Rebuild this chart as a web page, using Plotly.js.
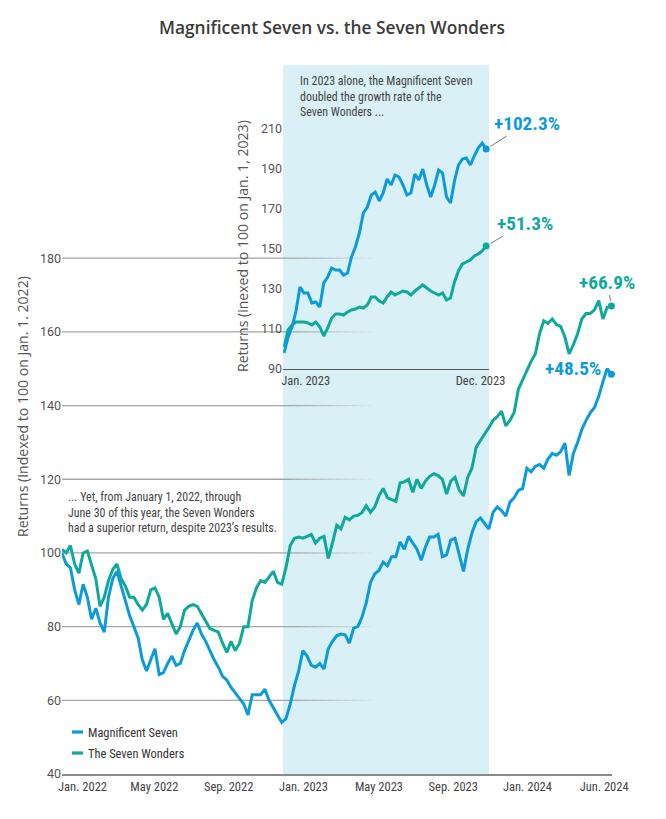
<!DOCTYPE html>
<html><head><meta charset="utf-8">
<script src="https://cdn.plot.ly/plotly-3.0.1.min.js"></script>
<style>html,body{margin:0;padding:0;background:#fff}#chart{width:666px;height:819px}</style>
</head><body><div id="chart"></div>
<script>
// ---------- data ----------
const seriesNames = ['Magnificent Seven', 'The Seven Wonders'];
const mainStart = '2022-01-01';   // weekly observations, main chart
const insetStart = '2023-01-03';  // weekly observations, 2023 inset

const magMain = [
  100,97,96,90,86,91.5,88,82,85,81,
  78.5,88,93,95,91,87,83,80,77,71,
  68,71,74,67,67.5,70,72,69.5,70,73.5,
  76.5,79,81,78,76,73.5,71,69,66.5,65.5,
  63.5,62,60.5,59,56,61.5,61.5,61.5,63,60,
  58,56,54,55,59,64,68,73.5,72,69.5,
  69,70,68.5,74,76,77.5,78,77.8,75.5,79.6,
  80,82.6,86.5,92,94.3,95.3,97.5,96.5,99,99,
  103,101,104.5,102.7,101,98,101.6,104.3,104.3,105,
  99,99.5,103.5,104,99.5,95,101,105.4,108.5,109.5,
  108,106.5,111,112.5,111.5,110,113.8,115,117,117.5,
  123,122,123.5,124,123,125.5,127,126.5,127.5,129.8,
  121,127,130,133.5,136,138,139.5,142.5,146.5,150,
  148.5];
const wonMain = [
  101,100,102,97,94.5,100,100.5,97,93,85.5,
  88,92.5,95.5,97,93,91,88,88,86,84.5,
  86,90,90.5,88,82,83.6,81,78,80,84.5,
  85.5,86,85.5,83.6,81.5,79.5,79,78.5,75.5,73,
  76,73.5,75.5,80,80,87,90.5,92.5,92,93.5,
  95,92,91.5,96,102,104,104.3,104,104.5,105,
  102.7,104,104.5,98.5,102.7,107.5,106.5,109.7,109,110,
  110.2,111,112.8,111,112.5,115.5,117.5,115,114.5,114,
  119,119.3,120,116.5,120,117.5,119.5,120.8,121.5,121,
  120,116,119.5,120.5,117,115.5,120.5,123,128.7,130.6,
  132.3,134,136,137,138.5,134.5,136,138.2,144.5,147,
  149.5,152,154,159.5,163,162.3,163.5,162,161.5,158.6,
  154,156.5,159.5,163.5,165,165,166,168.5,163.5,166.7,
  167];
const magInset = [
  98,106,111,119,131,128,128,123,123.5,121,
  133,136,140.5,139.5,139.5,137,138,146,151,158,
  168,171,177,178.5,174,178,185,182,187,186,
  182,177,178,187.5,184.5,190,182,176,182,189.5,
  188,176,173,184,192,195,195.5,192,196.5,200.5,
  203,200];
const wonInset = [
  101,109.5,112,113.5,113.5,113.5,113,112,113.5,111,
  106.5,110.5,115.5,117.5,117.5,117,118.5,119.5,120,121,
  120.5,122,126,126,124,123,126,128.5,127,128,
  129,128.5,127,129,130.5,132,130.5,129,128,127,
  128,124.5,125.5,133.5,139,142.5,143.5,144.5,146.5,147.5,
  149,151.5];

const insetEndLabels = ['+102.3%', '+51.3%'];
const mainEndLabels = ['+48.5%', '+66.9%'];

const mainTickText = ['Jan. 2022','May 2022','Sep. 2022','Jan. 2023','May 2023','Sep. 2023','Jan. 2024','Jun. 2024'];
const mainTickDates = ['2022-02-04','2022-06-03','2022-10-04','2023-02-05','2023-06-10','2023-10-11','2024-02-11','2024-06-17'];
const insetTickText = ['Jan. 2023','Dec. 2023'];
const insetTickDates = ['2023-02-10','2023-12-16'];
const mainYTicks = [40,60,80,100,120,140,160,180];
const insetYTicks = [90,110,130,150,170,190,210];

const titleText = 'Magnificent Seven vs. the Seven Wonders';
const mainYTitle = 'Returns (Indexed to 100 on Jan. 1. 2022)';
const insetYTitle = 'Returns (inexed to 100 on Jan. 1, 2023)';
const noteInsetLines = ['In 2023 alone, the Magnificent Seven', 'doubled the growth rate of the', 'Seven Wonders ...'];
const noteMainLines = ['... Yet, from January 1, 2022, through', 'June 30 of this year, the Seven Wonders', 'had a superior return, despite 2023\u2019s results.'];

// ---------- font helpers (pick an installed face, size text to the reference widths) ----------
const cv = document.createElement('canvas').getContext('2d');
function textW(txt, fam, size, weight) { cv.font = (weight || 400) + ' ' + size + 'px ' + fam; return cv.measureText(txt).width; }
function hasFont(name) {
  const s = 'In 2023 alone, Magnificent 0123456789';
  return textW(s, '"' + name + '", monospace', 40) !== textW(s, 'monospace', 40) ||
         textW(s, '"' + name + '", serif', 40) !== textW(s, 'serif', 40);
}
const condName = ['Roboto Condensed', 'Liberation Sans Narrow', 'Arial Narrow', 'Roboto'].find(hasFont) || 'Roboto';
const COND = '"' + condName + '", Roboto, sans-serif';
const fit = (txt, fam, weight, target, max) => Math.min(max, 20 * target / textW(txt, fam, 20, weight));

const noteSize = Math.min(fit(noteInsetLines[0], COND, 400, 175, 13.5), fit(noteMainLines[2], COND, 400, 209, 13.5));
const legendSize = fit(seriesNames[0], COND, 400, 90, 13.5);
const tickSize = fit(mainTickText[0], COND, 400, 49, 13.5);
const endSize = fit(insetEndLabels[0], COND, 700, 66, 20);
const yTitleSize = fit(mainYTitle, '"Open Sans"', 400, 261, 15);
const titleSize = fit(titleText, '"Open Sans"', 600, 346, 18);

// ---------- helpers ----------
function weekly(start, n) {
  const out = [], t0 = Date.parse(start + 'T00:00:00Z');
  for (let i = 0; i < n; i++) out.push(new Date(t0 + i * 7 * 86400000).toISOString().slice(0, 10));
  return out;
}
const mainDates = weekly(mainStart, magMain.length);
const insetDates = weekly(insetStart, magInset.length);
const last = a => a[a.length - 1];

const BLUE = '#0b9bdb', TEAL = '#0fa99b', SHADE = '#d9f0f6';
const LW = 3;

function lineTrace(x, y, color, xa, ya, name) {
  return {type: 'scatter', mode: 'lines', x: x, y: y, xaxis: xa, yaxis: ya, name: name,
    line: {color: color, width: LW, shape: 'linear'}, hoverinfo: 'skip', showlegend: false};
}
function dotTrace(x, y, color, xa, ya) {
  return {type: 'scatter', mode: 'markers', x: [last(x)], y: [last(y)], xaxis: xa, yaxis: ya,
    marker: {color: color, size: 7}, hoverinfo: 'skip', showlegend: false, cliponaxis: false};
}

const data = [
  lineTrace(mainDates, wonMain, TEAL, 'x', 'y', seriesNames[1]),
  lineTrace(mainDates, magMain, BLUE, 'x', 'y', seriesNames[0]),
  dotTrace(mainDates, wonMain, TEAL, 'x', 'y'),
  dotTrace(mainDates, magMain, BLUE, 'x', 'y'),
  lineTrace(insetDates, wonInset, TEAL, 'x2', 'y2', seriesNames[1]),
  lineTrace(insetDates, magInset, BLUE, 'x2', 'y2', seriesNames[0]),
  dotTrace(insetDates, wonInset, TEAL, 'x2', 'y2'),
  dotTrace(insetDates, magInset, BLUE, 'x2', 'y2')
];

// ---------- layout geometry ----------
const M = {l: 62, r: 54, t: 74, b: 45};
const PW = 666 - M.l - M.r, PH = 819 - M.t - M.b;
const px = v => (v - M.l) / PW;          // pixel x -> paper
const py = v => (819 - M.b - v) / PH;    // pixel y -> paper

const shapes = [];
shapes.push({type: 'rect', xref: 'paper', yref: 'paper', x0: px(283), x1: px(489), y0: 0, y1: py(65),
  fillcolor: SHADE, line: {width: 0}, layer: 'below'});
// fading gridlines
mainYTicks.filter(v => v > 40).forEach(v => {
  shapes.push({type: 'line', xref: 'paper', yref: 'y', x0: 0, x1: px(292), y0: v, y1: v,
    line: {color: 'rgb(165,165,165)', width: 1.3}, layer: 'below'});
  const n = 10;
  for (let i = 0; i < n; i++) {
    const a = 292 + i * 8, b = a + 8;
    shapes.push({type: 'line', xref: 'paper', yref: 'y', x0: px(a), x1: px(b), y0: v, y1: v,
      opacity: 1 - (i + 1) / (n + 1), line: {color: 'rgb(165,165,165)', width: 1.3}, layer: 'below'});
  }
});
// legend swatches
[[seriesNames[0], BLUE, 732], [seriesNames[1], TEAL, 753]].forEach(s => {
  shapes.push({type: 'line', xref: 'paper', yref: 'paper', x0: px(72), x1: px(83), y0: py(s[2]), y1: py(s[2]),
    line: {color: s[1], width: 3.2}});
});

const endFont = c => ({family: COND, size: endSize, color: c, weight: 'bold'});
const noteFont = {family: COND, size: noteSize, color: '#444'};
const annotations = [
  {text: noteInsetLines.join('<br>'), xref: 'paper', yref: 'paper', x: px(298), y: py(72), xanchor: 'left', yanchor: 'top',
    align: 'left', showarrow: false, font: noteFont},
  {text: noteMainLines.join('<br>'), xref: 'paper', yref: 'paper', x: px(66), y: py(488), xanchor: 'left', yanchor: 'top',
    align: 'left', showarrow: false, font: noteFont},
  {text: mainYTitle, xref: 'paper', yref: 'paper', x: px(22), y: py(407), xanchor: 'center', yanchor: 'middle', textangle: -90,
    showarrow: false, font: {family: 'Open Sans', size: yTitleSize, color: '#555'}},
  {text: insetYTitle, xref: 'paper', yref: 'paper', x: px(243), y: py(246), xanchor: 'center', yanchor: 'middle', textangle: -90,
    showarrow: false, font: {family: 'Open Sans', size: yTitleSize, color: '#555'}},
  {text: seriesNames[0], xref: 'paper', yref: 'paper', x: px(86), y: py(732), xanchor: 'left', yanchor: 'middle',
    showarrow: false, font: {family: COND, size: legendSize, color: '#333'}},
  {text: seriesNames[1], xref: 'paper', yref: 'paper', x: px(86), y: py(753), xanchor: 'left', yanchor: 'middle',
    showarrow: false, font: {family: COND, size: legendSize, color: '#333'}},
  // end labels
  {text: insetEndLabels[0], xref: 'x2', yref: 'y2', x: last(insetDates), y: last(magInset), ax: 41, ay: -26,
    showarrow: true, arrowhead: 0, arrowwidth: 1, arrowcolor: '#777', standoff: 5, font: endFont(BLUE)},
  {text: insetEndLabels[1], xref: 'x2', yref: 'y2', x: last(insetDates), y: last(wonInset), ax: 39, ay: -23,
    showarrow: true, arrowhead: 0, arrowwidth: 1, arrowcolor: '#777', standoff: 5, font: endFont(TEAL)},
  {text: mainEndLabels[1], xref: 'x', yref: 'y', x: last(mainDates), y: last(wonMain), ax: -4, ay: -24,
    showarrow: true, arrowhead: 0, arrowwidth: 1, arrowcolor: '#777', standoff: 5, font: endFont(TEAL)},
  {text: mainEndLabels[0], xref: 'x', yref: 'y', x: last(mainDates), y: last(magMain), ax: -38, ay: -6,
    showarrow: true, arrowhead: 0, arrowwidth: 0.1, arrowcolor: 'rgba(0,0,0,0)', font: endFont(BLUE)}
];

const layout = {
  width: 666, height: 819, margin: M,
  paper_bgcolor: '#fff', plot_bgcolor: 'rgba(0,0,0,0)',
  showlegend: false,
  title: {text: titleText, x: 332 / 666, xanchor: 'center', xref: 'container', y: 1 - 28 / 819, yref: 'container', yanchor: 'middle',
    font: {family: 'Open Sans', size: titleSize, color: '#3b3b3b', weight: 600}},
  xaxis: {type: 'date', range: ['2022-01-01', '2024-06-30'], domain: [0, 1],
    tickmode: 'array', tickvals: mainTickDates, ticktext: mainTickText, ticks: '',
    showgrid: false, zeroline: false, showline: true, linecolor: '#8a8a8a', linewidth: 1.5,
    tickfont: {family: COND, size: tickSize, color: '#444'}, fixedrange: true},
  yaxis: {range: [40, 230], domain: [0, 1], tickmode: 'array', tickvals: mainYTicks, ticks: '',
    showgrid: false, zeroline: false, showline: false,
    tickfont: {family: 'Roboto', size: 12.5, color: '#555'}, fixedrange: true},
  xaxis2: {type: 'date', range: ['2023-01-01', '2023-12-31'], domain: [px(283), px(489)], anchor: 'y2',
    tickmode: 'array', tickvals: insetTickDates, ticktext: insetTickText, ticks: '',
    showgrid: false, zeroline: false, showline: true, linecolor: '#555', linewidth: 1,
    tickfont: {family: COND, size: tickSize, color: '#444'}, fixedrange: true},
  yaxis2: {range: [90, 235], domain: [py(369), py(79)], anchor: 'x2', tickmode: 'array', tickvals: insetYTicks, ticks: '',
    showgrid: false, zeroline: false, showline: false,
    tickfont: {family: 'Roboto', size: 12.5, color: '#555'}, fixedrange: true},
  shapes: shapes,
  annotations: annotations
};

Plotly.newPlot('chart', data, layout, {displayModeBar: false, staticPlot: true});
</script></body></html>
